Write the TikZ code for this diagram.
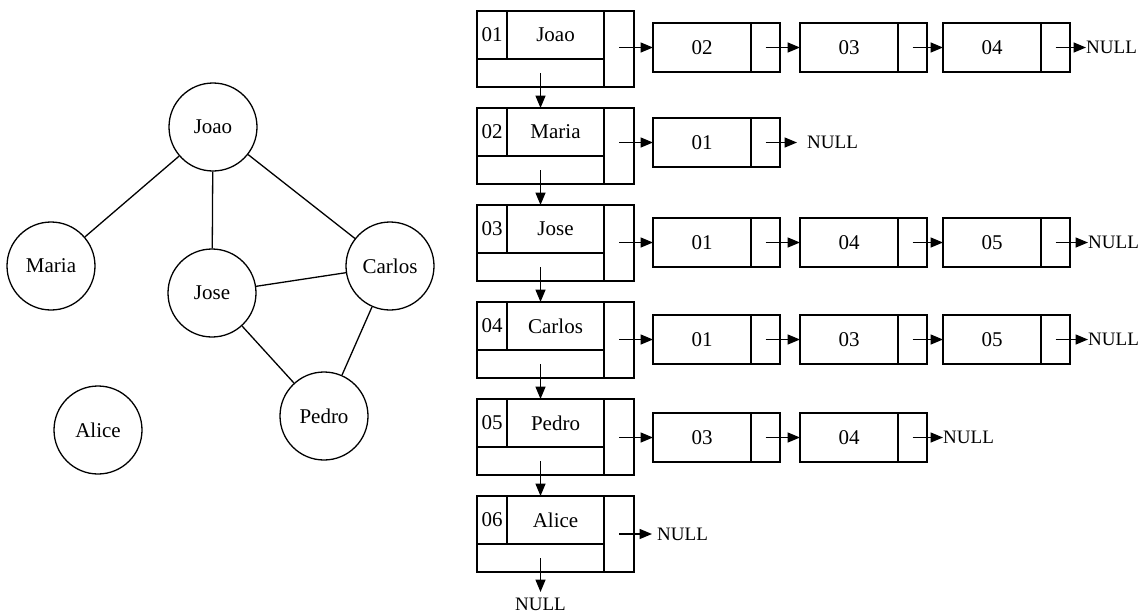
\documentclass[tikz,border=0pt]{standalone}
\usepackage{fontspec}
\setmainfont{Liberation Serif}
\usetikzlibrary{arrows.meta}
\tikzset{
  vertex/.style={circle, draw, line width=1.3pt, minimum size=88pt, inner sep=0pt},
  edge/.style={line width=1.3pt},
  cell/.style={draw, line width=1.3pt, inner sep=0pt, outer sep=0pt, anchor=north west},
  numcell/.style={cell, minimum width=30pt, minimum height=48pt},
  namecell/.style={cell, minimum width=97pt, minimum height=48pt},
  botcell/.style={cell, minimum width=127pt, minimum height=28pt},
  ptrcell/.style={cell, minimum width=30pt, minimum height=76pt},
  datacell/.style={cell, minimum width=98pt, minimum height=49pt},
  linkcell/.style={cell, minimum width=29pt, minimum height=49pt},
  link/.style={line width=1.5pt, -{Triangle[length=12.5pt,width=10pt]}},
  nullmark/.style={inner sep=0pt, font=\fontsize{19}{22}\selectfont},
}
% one record of the vertex list: (name,top) number label
\def\vrec(#1,#2)#3#4{%
  \node[numcell] (#1n) at (477,#2) {#3};
  \node[namecell] (#1m) at (#1n.north east) {#4};
  \node[botcell] (#1b) at (#1n.south west) {};
  \node[ptrcell] (#1p) at (#1m.north east) {};
}
% one box of an adjacency list: (name,left,top) number
\def\abox(#1,#2,#3)#4{%
  \node[datacell] (#1) at (#2,#3) {#4};
  \node[linkcell] (#1x) at (#1.north east) {};
}

\begin{document}
\begin{tikzpicture}[x=1pt, y=-1pt, font=\fontsize{21}{25}\selectfont]
	\useasboundingbox (0,0) rectangle (1146,614);
	
	%%%%% graph %%%%%
	\node[vertex] (joao) at (213,127) {Joao};
	\node[vertex] (maria) at (51,266) {Maria};
	\node[vertex] (jose) at (212,293) {Jose};
	\node[vertex] (carlos) at (390,266) {Carlos};
	\node[vertex] (pedro) at (324,416) {Pedro};
	\node[vertex] (alice) at (98,430) {Alice};
	
	\draw[edge] (joao) -- (maria);
	\draw[edge] (joao) -- (jose);
	\draw[edge] (joao) -- (carlos);
	\draw[edge] (jose) -- (carlos);
	\draw[edge] (jose) -- (pedro);
	\draw[edge] (carlos) -- (pedro);
	
	%%%%% vertex list %%%%%
	\vrec(r1,11){01}{Joao}
	\vrec(r2,108){02}{Maria}
	\vrec(r3,205){03}{Jose}
	\vrec(r4,302){04}{Carlos}
	\vrec(r5,399){05}{Pedro}
	\vrec(r6,496){06}{Alice}
	
	\draw[link] (r1b.center) -- (r1b.center |- r2n.north);
	\draw[link] (r2b.center) -- (r2b.center |- r3n.north);
	\draw[link] (r3b.center) -- (r3b.center |- r4n.north);
	\draw[link] (r4b.center) -- (r4b.center |- r5n.north);
	\draw[link] (r5b.center) -- (r5b.center |- r6n.north);
	\node[nullmark, anchor=north] (nb) at (r6b.center |- 0,598) {NULL};
	\draw[link, shorten >=6pt] (r6b.center) -- (nb.north);
	
	%%%%% adjacency lists %%%%%
	\abox(a12,653,23){02}
	\abox(a13,800,23){03}
	\abox(a14,943,23){04}
	\node[nullmark, anchor=west] (n1) at (1086,47.5) {NULL};
	\draw[link] (a12.west -| r1p.center) -- (a12.west);
	\draw[link] (a12x.center) -- (a13.west);
	\draw[link] (a13x.center) -- (a14.west);
	\draw[link] (a14x.center) -- (n1.west);
	
	\abox(a21,653,118){01}
	\node[nullmark, anchor=west] (n2) at (807,142.5) {NULL};
	\draw[link] (a21.west -| r2p.center) -- (a21.west);
	\draw[link, shorten >=10pt] (a21x.center) -- (n2.west);
	
	\abox(a31,653,218){01}
	\abox(a34,800,218){04}
	\abox(a35,943,218){05}
	\node[nullmark, anchor=west] (n3) at (1088,242.5) {NULL};
	\draw[link] (a31.west -| r3p.center) -- (a31.west);
	\draw[link] (a31x.center) -- (a34.west);
	\draw[link] (a34x.center) -- (a35.west);
	\draw[link] (a35x.center) -- (n3.west);
	
	\abox(a41,653,315){01}
	\abox(a43,800,315){03}
	\abox(a45,943,315){05}
	\node[nullmark, anchor=west] (n4) at (1088,339.5) {NULL};
	\draw[link] (a41.west -| r4p.center) -- (a41.west);
	\draw[link] (a41x.center) -- (a43.west);
	\draw[link] (a43x.center) -- (a45.west);
	\draw[link] (a45x.center) -- (n4.west);
	
	\abox(a53,653,413){03}
	\abox(a54,800,413){04}
	\node[nullmark, anchor=west] (n5) at (943,437.5) {NULL};
	\draw[link] (a53.west -| r5p.center) -- (a53.west);
	\draw[link] (a53x.center) -- (a54.west);
	\draw[link] (a54x.center) -- (n5.west);
	
	\node[nullmark, anchor=west] (n6) at (657,534) {NULL};
	\draw[link, shorten >=5pt] (r6p.center) -- (n6.west);
\end{tikzpicture}
\end{document}
